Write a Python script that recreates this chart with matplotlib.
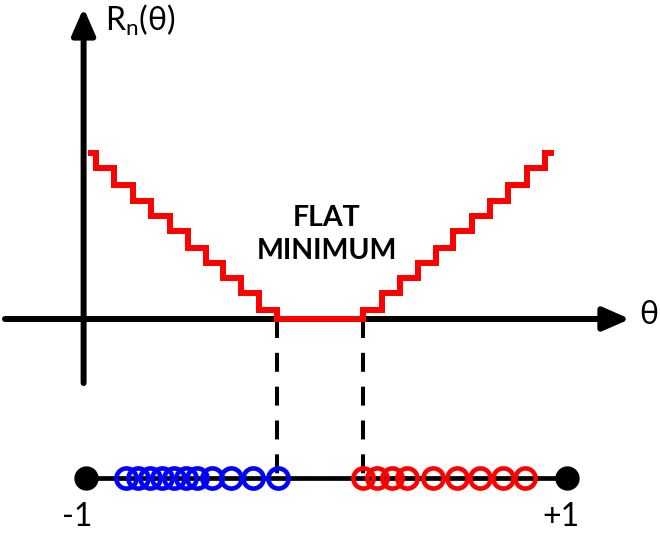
import matplotlib.pyplot as plt
import numpy as np

plt.rcParams.update({
    "font.family": ["Lato", "DejaVu Sans"],
    "mathtext.default": "regular",
})

# ---------------------------------------------------------------------------
# Data (theta in [-1, 1], risk in step units)
# ---------------------------------------------------------------------------
blue_samples = [-0.834, -0.784, -0.734, -0.684, -0.634, -0.584,
                -0.538, -0.476, -0.397, -0.306, -0.202]
red_samples = [0.152, 0.210, 0.272, 0.335, 0.443, 0.543, 0.638, 0.734, 0.825]

left_edges = [-0.958, -0.884, -0.805, -0.730, -0.651, -0.576,
              -0.501, -0.430, -0.356, -0.281, -0.206]
left_levels = [11.0, 10.0, 8.9, 7.8, 6.8, 5.8, 4.7, 3.7, 2.7, 1.7, 0.6]
right_edges = [0.152, 0.231, 0.306, 0.380, 0.455, 0.526,
               0.605, 0.680, 0.755, 0.834, 0.909]
right_levels = [0.6, 1.7, 2.7, 3.7, 4.7, 5.8, 6.8, 7.8, 8.9, 10.0, 11.0]
stair_start, stair_end = -0.99, 0.946

flat_lo, flat_hi = -0.206, 0.152
end_points = [-1.0, 1.0]
end_labels = ["-1", "+1"]

# ---------------------------------------------------------------------------
# Layout
# ---------------------------------------------------------------------------
PX = 240.5          # pixels per theta unit / 2
STEP = 15.1         # pixels per risk unit
X0, Y0 = 86, 319    # pixel position of (theta=-1, R=0)
W, H = 660, 537

fig = plt.figure(figsize=(W / 100, H / 100), dpi=100)
ax = fig.add_axes([0, 0, 1, 1])
ax.set_xlim(-1 - X0 / PX, (W - X0) / PX - 1)
ax.set_ylim((Y0 - H) / STEP, Y0 / STEP)
ax.axis("off")

y_line = (Y0 - 478) / STEP
y_axis_x = -1.01

# axes with arrows
arrow_kw = dict(arrowstyle="-|>,head_length=1.6,head_width=0.7",
                color="black", lw=4.3, shrinkA=0, shrinkB=0)
ax.annotate("", xy=(1.262, 0), xytext=(-1.337, 0), arrowprops=arrow_kw, zorder=2)
ax.annotate("", xy=(y_axis_x, 20.6), xytext=(y_axis_x, -4.24),
            arrowprops=arrow_kw, zorder=2)

ax.text(1.34, 0.25, "θ", fontsize=23, ha="center", va="center")
ax.text(-0.92, 19.1, r"$\mathregular{R_n(θ)}$", fontsize=23,
        ha="left", va="baseline")

# staircase empirical risk
edges = np.array([stair_start] + left_edges + right_edges + [stair_end])
values = np.array(left_levels + [0.0] + right_levels)
stairs = ax.stairs(values, edges, baseline=None, color="red", lw=4.3, zorder=3)
stairs.set_joinstyle("miter")
stairs.set_capstyle("butt")

ax.text(0.0, 5.6, "FLAT\nMINIMUM", fontsize=20.5, fontweight="bold",
        ha="center", va="center", linespacing=1.3)

# dashed guides
for xv in (flat_lo, flat_hi):
    ax.plot([xv, xv], [0, y_line], color="black", lw=2.9,
            dashes=(4.7, 3.7), zorder=1)

# sample line
ax.plot(end_points, [y_line, y_line], color="black", lw=3.4, zorder=1)
ax.plot(end_points, [y_line, y_line], "o", color="black", ms=16.5, zorder=4)
ax.plot(blue_samples, [y_line] * len(blue_samples), "o", mfc="none",
        mec="blue", ms=14.5, mew=3.3, zorder=3)
ax.plot(red_samples, [y_line] * len(red_samples), "o", mfc="none",
        mec="red", ms=14.5, mew=3.3, zorder=3)

ax.text(end_points[0] - 0.035, -13.1, end_labels[0], fontsize=23,
        ha="center", va="center")
ax.text(end_points[1] - 0.025, -13.1, end_labels[1], fontsize=23,
        ha="center", va="center")

fig.savefig("out.png", dpi=100, facecolor="white")
